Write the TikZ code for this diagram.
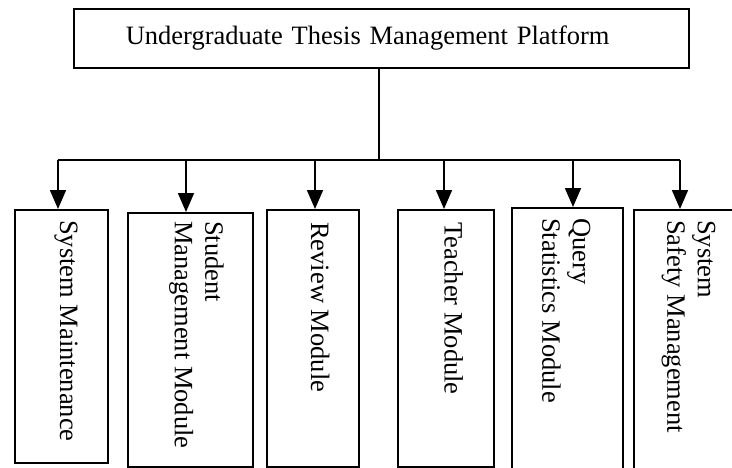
\documentclass[tikz,border=0pt]{standalone}
\usepackage{fontspec}
\setmainfont{Liberation Serif}
\usetikzlibrary{arrows.meta}
\tikzset{
  ln/.style={line width=1.7pt},
  box/.style={draw, line width=1.7pt, anchor=north west, inner sep=0pt},
  lab/.style={rotate=-90, inner sep=0pt, align=left, font=\fontsize{26.5}{30.5}\selectfont},
  arr/.style={line width=1.7pt, -{Triangle[length=19pt,width=16pt]}},
}
\begin{document}
\begin{tikzpicture}[x=1pt,y=-1pt]
\useasboundingbox (0,0) rectangle (732,467);
\clip (0,0) rectangle (732,467);
% top box
\node[box, text width=511pt, inner xsep=52pt, inner ysep=0pt, minimum height=59pt, align=left,
      font=\fontsize{26.5}{30.5}\selectfont] (top) at (73,8) {Undergraduate Thesis Management Platform};
% module boxes
\node[box, minimum width=93pt,  minimum height=253pt] (b1) at (14,209) {};
\node[box, minimum width=125pt, minimum height=254pt] (b2) at (127,212) {};
\node[box, minimum width=92pt,  minimum height=257pt] (b3) at (266,209) {};
\node[box, minimum width=96pt,  minimum height=257pt] (b4) at (397,209) {};
\node[box, minimum width=111pt, minimum height=280pt] (b5) at (511,207) {};
\node[box, minimum width=110pt, minimum height=280pt] (b6) at (633,209) {};
% labels
\node[lab, anchor=base west] (l1) at (60,220) {System Maintenance};
\node[lab, anchor=north west] (l2) at (224,221) {Student\\Management Module};
\node[lab, anchor=base west] (l3) at (311,222) {Review Module};
\node[lab, anchor=base west] (l4) at (444.5,222) {Teacher Module};
\node[lab, anchor=north west] (l5) at (590.5,218) {Query\\Statistics Module};
\node[lab, anchor=north west] (l6) at (715.5,220) {System\\Safety Management};
% connectors
\coordinate (hub) at (379,160);
\coordinate (t1) at (58,160);
\coordinate (t2) at (186,160);
\coordinate (t3) at (315,160);
\coordinate (t4) at (444,160);
\coordinate (t5) at (573,160);
\coordinate (t6) at (680,160);
\draw[ln] (top.south -| hub) -- (hub);
\draw[ln] (t1) -- (t6);
\draw[arr] (t1) -- (t1 |- b1.north);
\draw[arr] (t2) -- (t2 |- b2.north);
\draw[arr] (t3) -- (t3 |- b3.north);
\draw[arr] (t4) -- (t4 |- b4.north);
\draw[arr] (t5) -- (t5 |- b5.north);
\draw[arr] (t6) -- (t6 |- b6.north);
\end{tikzpicture}
\end{document}
